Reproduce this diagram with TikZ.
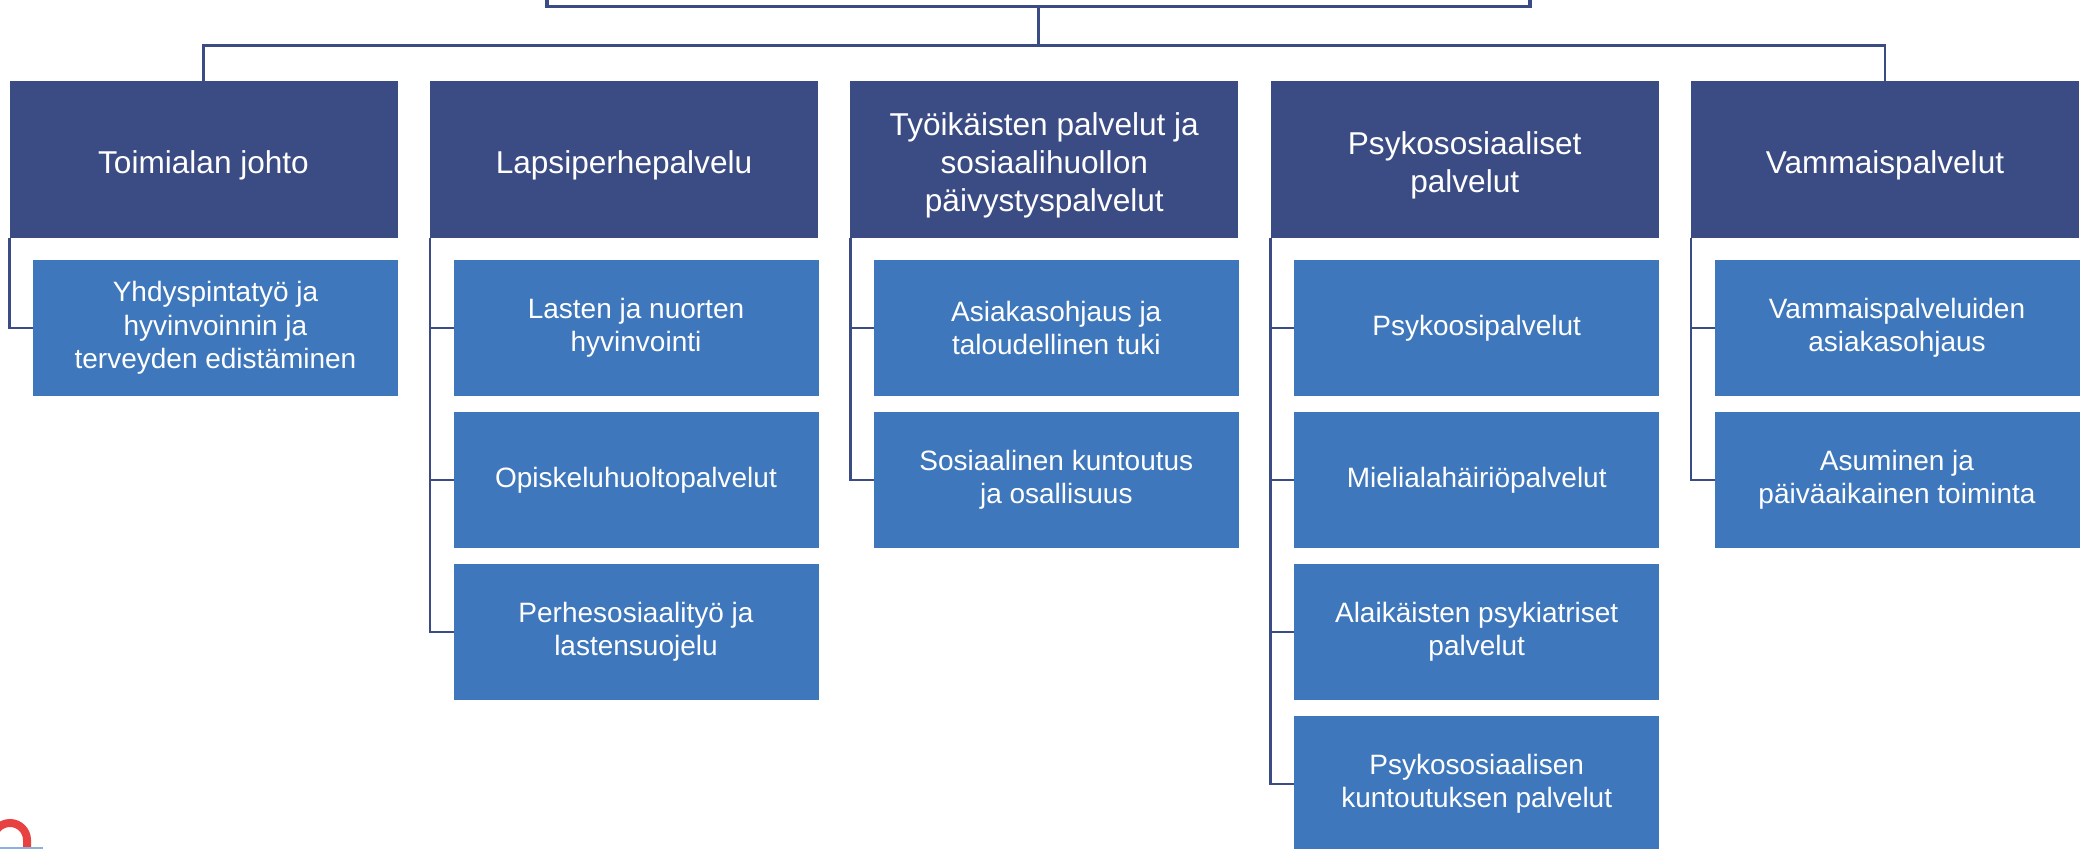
\documentclass[tikz,border=0pt]{standalone}
\usepackage{fontspec}
\setmainfont{Liberation Sans}
\usepackage{tikz}
\pgfdeclarelayer{edgelayer}
\pgfdeclarelayer{nodelayer}
\pgfsetlayers{edgelayer,nodelayer,main}
\definecolor{headblue}{RGB}{59,76,132}
\definecolor{unitblue}{RGB}{63,119,188}
\definecolor{logored}{RGB}{232,65,66}
\definecolor{logoline}{RGB}{140,175,222}
\tikzstyle{head}=[rectangle, inner sep=0pt, outer sep=0pt, fill=headblue, minimum width=194pt, minimum height=78.5pt]
\tikzstyle{headtext}=[inner sep=0pt, text=white, align=center, yshift=-2.75pt, font=\fontsize{15.8pt}{19pt}\selectfont]
\tikzstyle{unit}=[rectangle, inner sep=0pt, outer sep=0pt, fill=unitblue, text=white, align=center, minimum width=182.5pt, minimum height=68pt, font=\fontsize{14pt}{16.7pt}\selectfont]
\tikzstyle{link}=[draw=headblue, line width=1.3pt]

\begin{document}
\begin{tikzpicture}[x=0.5pt, y=-0.5pt]
	\useasboundingbox (0,0) rectangle (2089,849);
	\begin{pgfonlayer}{nodelayer}
		\clip (0,0) rectangle (2089,849);
		\node [rectangle, draw=headblue, line width=1.8pt, fill=white, minimum width=491.7pt, minimum height=50pt] (0) at (1038.5, -43.5) {};
		\node [style=head, label={[headtext]center:{Toimialan johto}}] (1) at (203.5, 159.5) {};
		\node [style=head, label={[headtext]center:{Lapsiperhepalvelu}}] (2) at (624, 159.5) {};
		\node [style=head, label={[headtext]center:{Työikäisten palvelut ja\\sosiaalihuollon\\päivystyspalvelut}}] (3) at (1044.3, 159.5) {};
		\node [style=head, label={[headtext]center:{Psykososiaaliset\\palvelut}}] (4) at (1464.7, 159.5) {};
		\node [style=head, label={[headtext]center:{Vammaispalvelut}}] (5) at (1885, 159.5) {};
		\node [style=unit] (6) at (215.5, 328) {Yhdyspintatyö ja\\hyvinvoinnin ja\\terveyden edistäminen};
		\node [style=unit] (7) at (636, 328) {Lasten ja nuorten\\hyvinvointi};
		\node [style=unit] (8) at (636, 480) {Opiskeluhuoltopalvelut};
		\node [style=unit] (9) at (636, 632) {Perhesosiaalityö ja\\lastensuojelu};
		\node [style=unit] (10) at (1056.3, 328) {Asiakasohjaus ja\\taloudellinen tuki};
		\node [style=unit] (11) at (1056.3, 480) {Sosiaalinen kuntoutus\\ja osallisuus};
		\node [style=unit] (12) at (1476.7, 328) {Psykoosipalvelut};
		\node [style=unit] (13) at (1476.7, 480) {Mielialahäiriöpalvelut};
		\node [style=unit] (14) at (1476.7, 632) {Alaikäisten psykiatriset\\palvelut};
		\node [style=unit] (15) at (1476.7, 784) {Psykososiaalisen\\kuntoutuksen palvelut};
		\node [style=unit] (16) at (1897, 328) {Vammaispalveluiden\\asiakasohjaus};
		\node [style=unit] (17) at (1897, 480) {Asuminen ja\\päiväaikainen toiminta};
	\end{pgfonlayer}
	\begin{pgfonlayer}{edgelayer}
		\clip (0,0) rectangle (2089,849);
		\coordinate (18) at (1038.5, 45.5);
		\draw [style=link] (0.south) to (18);
		\draw [style=link] (1.north) |- (18) -| (5.north);
		\draw [style=link] (1.south west) |- (6.west);
		\draw [style=link] (2.south west) |- (7.west);
		\draw [style=link] (2.south west) |- (8.west);
		\draw [style=link] (2.south west) |- (9.west);
		\draw [style=link] (3.south west) |- (10.west);
		\draw [style=link] (3.south west) |- (11.west);
		\draw [style=link] (4.south west) |- (12.west);
		\draw [style=link] (4.south west) |- (13.west);
		\draw [style=link] (4.south west) |- (14.west);
		\draw [style=link] (4.south west) |- (15.west);
		\draw [style=link] (5.south west) |- (16.west);
		\draw [style=link] (5.south west) |- (17.west);
		% cut-off logo in the corner
		\draw [logored, line width=4pt] (27, 852) -- (27, 840) arc (0:-180:17) -- (-7, 852);
		\draw [logoline, line width=1pt] (0, 848) -- (43, 848);
	\end{pgfonlayer}
\end{tikzpicture}
\end{document}
